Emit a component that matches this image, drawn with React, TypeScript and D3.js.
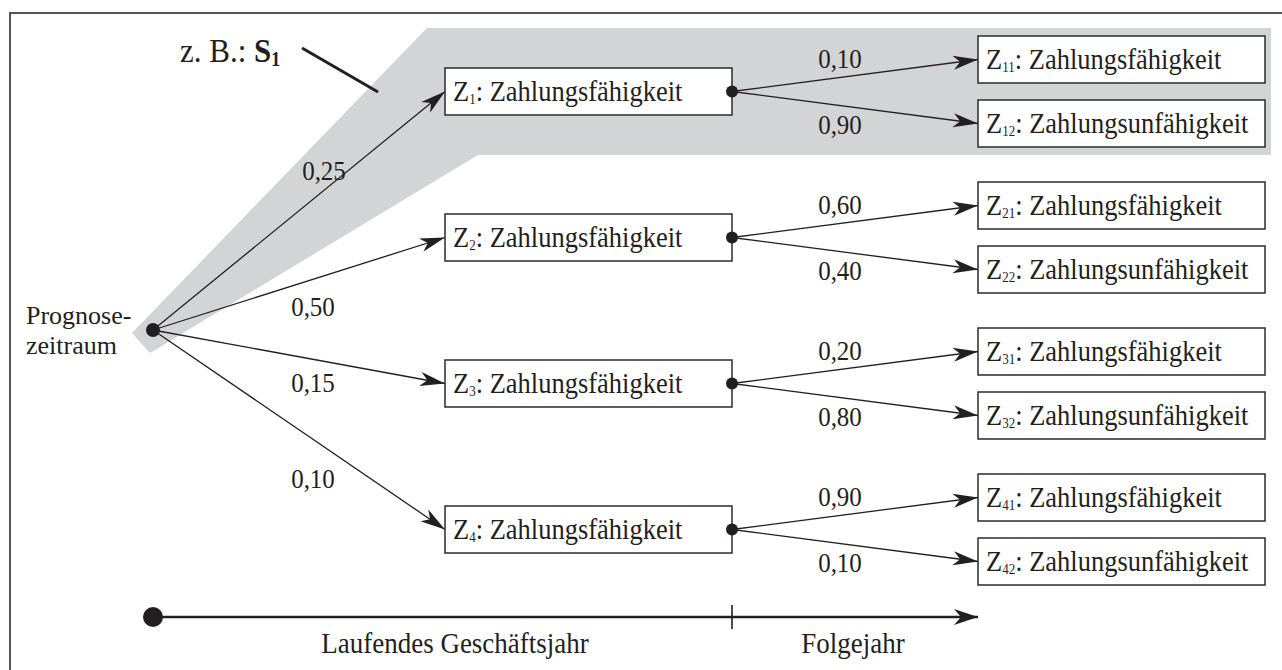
import React, { useRef, useEffect } from 'react';
import * as d3 from 'd3';

// first stage: Zahlungsfähigkeit in the current year
const stageOneIds = ['1', '2', '3', '4'];
const stageOneProbs = ['0,25', '0,50', '0,15', '0,10'];
// second stage: outcomes in the following year
const stageTwoSuffix = ['1', '2'];
const stageTwoLabels = ['Zahlungsfähigkeit', 'Zahlungsunfähigkeit'];
const stageTwoProbs = [
  ['0,10', '0,90'],
  ['0,60', '0,40'],
  ['0,20', '0,80'],
  ['0,90', '0,10'],
];
const rootLabel = ['Prognose-', 'zeitraum'];
const timelineLabels = ['Laufendes Geschäftsjahr', 'Folgejahr'];

const W = 1282;
const H = 670;
const FONT = '"Liberation Serif", "Times New Roman", serif';
const INK = '#231f20';
const STRETCH = 1.12; // print scan is slightly taller than wide

const App: React.FC = () => {
  const svgRef = useRef<SVGSVGElement>(null);

  useEffect(() => {
    document.body.style.margin = '0';
    if (!svgRef.current) return;
    const svg = d3.select(svgRef.current);
    svg.selectAll('*').remove();

    const addText = (tx: number, ty: number, size: number, anchor = 'start', sy = STRETCH) =>
      svg.append('text')
        .attr('transform', `translate(${tx},${ty}) scale(1,${sy})`)
        .attr('text-anchor', anchor)
        .attr('font-family', FONT)
        .attr('font-size', size)
        .attr('fill', INK);

    // layout scales
    const x = d3.scaleOrdinal<string, number>()
      .domain(['root', 'box1', 'box1end', 'box2', 'box2end'])
      .range([153, 445, 732, 978, 1265]);
    const y1 = d3.scalePoint<string>().domain(stageOneIds).range([91.5, 529.5]);
    const y2 = d3.scalePoint<string>().domain(stageTwoSuffix).range([-32, 32]);
    const rootY = 330;
    const boxH = 47;

    const defs = svg.append('defs');
    defs.append('marker')
      .attr('id', 'arr')
      .attr('viewBox', '-26 -8 28 16')
      .attr('refX', 0).attr('refY', 0)
      .attr('markerWidth', 28).attr('markerHeight', 16)
      .attr('markerUnits', 'userSpaceOnUse')
      .attr('orient', 'auto')
      .append('path')
      .attr('d', 'M0,0 L-25,-7 L-18,0 L-25,7 Z')
      .attr('fill', INK);
    defs.append('marker')
      .attr('id', 'arrBig')
      .attr('viewBox', '-26 -9 28 18')
      .attr('refX', 0).attr('refY', 0)
      .attr('markerWidth', 28).attr('markerHeight', 18)
      .attr('markerUnits', 'userSpaceOnUse')
      .attr('orient', 'auto')
      .append('path')
      .attr('d', 'M0,0 L-24,-8 L-17,0 L-24,8 Z')
      .attr('fill', INK);

    // frame
    svg.append('rect')
      .attr('x', 10).attr('y', 13)
      .attr('width', W).attr('height', H)
      .attr('fill', 'none')
      .attr('stroke', '#555')
      .attr('stroke-width', 2);

    // highlighted scenario S1
    const z1 = y1('1') as number;
    const band = [
      [x('root') - 21, rootY + 3],
      [427, 28],
      [1271, 28],
      [1271, z1 + 63.5],
      [478, z1 + 63.5],
      [x('root') - 3, rootY + 23],
    ];
    svg.append('path')
      .attr('d', d3.line()(band as [number, number][]) + 'Z')
      .attr('fill', '#d3d4d6');

    // z. B.: S1
    const note = addText(180, 62, 31);
    note.append('tspan').text('z. B.: ');
    note.append('tspan').attr('font-weight', 'bold').text('S');
    note.append('tspan').attr('font-weight', 'bold').attr('font-size', 18).attr('dy', 4).text('1');
    svg.append('line')
      .attr('x1', 302).attr('y1', 48)
      .attr('x2', 378).attr('y2', 92)
      .attr('stroke', INK).attr('stroke-width', 3);

    const drawBox = (bx: number, cy: number, w: number, sub: string, label: string) => {
      svg.append('rect')
        .attr('x', bx).attr('y', cy - boxH / 2)
        .attr('width', w).attr('height', boxH)
        .attr('fill', '#fff')
        .attr('stroke', '#2b2b2b')
        .attr('stroke-width', 1.5);
      const t = addText(bx + 8, cy + 9.5, 26.5);
      t.append('tspan').text('Z');
      t.append('tspan').attr('font-size', 13).attr('dy', 3).text(sub);
      t.append('tspan').attr('dy', -3).text(': ' + label);
    };

    const arrow = (xa: number, ya: number, xb: number, yb: number) => {
      svg.append('line')
        .attr('x1', xa).attr('y1', ya)
        .attr('x2', xb).attr('y2', yb)
        .attr('stroke', INK)
        .attr('stroke-width', 1.3)
        .attr('marker-end', 'url(#arr)');
    };

    const probText = (px: number, py: number, s: string) => {
      addText(px, py, 25, 'middle').text(s);
    };

    // first stage labels are placed relative to the branch line
    const labelX = 313;
    const labelDy = [-19, 37, 33, 49];

    stageOneIds.forEach((id, i) => {
      const cy = y1(id) as number;
      arrow(x('root'), rootY, x('box1'), cy);
      const lineY = rootY + (cy - rootY) * (labelX - x('root')) / (x('box1') - x('root'));
      probText(labelX + (i === 0 ? 11 : 0), lineY + labelDy[i], stageOneProbs[i]);

      stageTwoSuffix.forEach((s, j) => {
        const cy2 = cy + (y2(s) as number);
        arrow(x('box1end'), cy, x('box2'), cy2);
        drawBox(x('box2'), cy2, x('box2end') - x('box2'), id + s, stageTwoLabels[j]);
        probText(840, cy + (j === 0 ? -24 : 42), stageTwoProbs[i][j]);
      });

      drawBox(x('box1'), cy, x('box1end') - x('box1'), id, 'Zahlungsfähigkeit');
      svg.append('circle')
        .attr('cx', x('box1end')).attr('cy', cy)
        .attr('r', 6).attr('fill', INK);
    });

    // root
    svg.append('circle')
      .attr('cx', x('root')).attr('cy', rootY)
      .attr('r', 7).attr('fill', INK);
    rootLabel.forEach((s, i) => {
      addText(26, 324 + i * 30, 26, 'start', 1).text(s);
    });

    // timeline
    const ty = 617;
    svg.append('line')
      .attr('x1', x('root')).attr('y1', ty)
      .attr('x2', 978).attr('y2', ty)
      .attr('stroke', INK)
      .attr('stroke-width', 2.6)
      .attr('marker-end', 'url(#arrBig)');
    svg.append('circle')
      .attr('cx', x('root')).attr('cy', ty)
      .attr('r', 10).attr('fill', INK);
    svg.append('line')
      .attr('x1', x('box1end')).attr('y1', ty - 12)
      .attr('x2', x('box1end')).attr('y2', ty + 12)
      .attr('stroke', INK).attr('stroke-width', 1.6);
    const tlx = [455, 853];
    timelineLabels.forEach((s, i) => {
      addText(tlx[i], 653, 27, 'middle').text(s);
    });
  }, []);

  return <svg ref={svgRef} width={W} height={H} style={{ display: 'block', background: '#fff' }} />;
};

export default App;
